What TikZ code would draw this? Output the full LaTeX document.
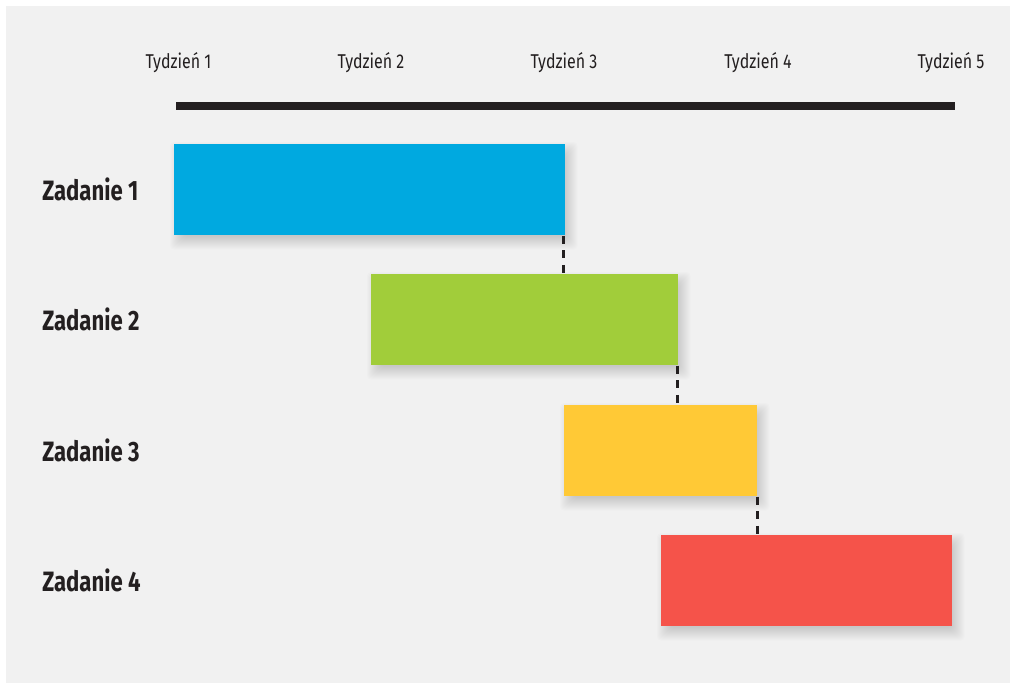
\documentclass[tikz,border=0pt]{standalone}
\usepackage{fontspec}
\setmainfont{Fira Sans}
\newfontfamily\weekfont[FakeStretch=0.8]{Fira Sans}
\newfontfamily\taskfont[FakeStretch=0.79]{Fira Sans Bold}

\pgfdeclarelayer{shade}
\pgfsetlayers{shade,main}

\definecolor{panel}{HTML}{F1F1F1}
\definecolor{ink}{HTML}{231F20}
\definecolor{barblue}{HTML}{00A9E0}
\definecolor{bargreen}{HTML}{A1CD3A}
\definecolor{baryellow}{HTML}{FFC936}
\definecolor{barred}{HTML}{F5534A}

\tikzset{
  week/.style={font=\weekfont\fontsize{15pt}{18pt}\selectfont, text=ink, anchor=base, inner sep=0pt},
  task/.style={font=\taskfont\fontsize{21pt}{25pt}\selectfont, text=ink, anchor=base west, inner sep=0pt},
  bar/.style={draw=none, anchor=north west, inner sep=0pt, minimum height={91*0.75pt}},
  shadelayer/.style={fill=black, fill opacity=0.012, draw=none, rounded corners=3pt},
  link/.style={draw=ink, line width=2pt, dash pattern=on 6pt off 5pt},
  timeline/.style={draw=ink, line width=6pt}
}

% soft drop shadow under a bar: stacked translucent rectangles
\newcommand\barshade[1]{%
  \begin{pgfonlayer}{shade}
    \foreach \r in {-5,...,8}{
      \fill[shadelayer]
        ([shift={(4-\r,6-\r)}]#1.north west) rectangle ([shift={(4+\r,6+\r)}]#1.south east);
    }
  \end{pgfonlayer}}

\begin{document}
\begin{tikzpicture}[x=0.75pt, y=-0.75pt]
  \useasboundingbox (0,0) rectangle (1010,683);
  \begin{pgfonlayer}{shade}
    \fill[white] (0,0) rectangle (1010,683);
    \fill[panel] (6,6) rectangle (1010,683);
  \end{pgfonlayer}

  % week header
  \node[week] (w1) at (178.5,68) {Tydzień 1};
  \node[week] (w2) at (371,68) {Tydzień 2};
  \node[week] (w3) at (564,68) {Tydzień 3};
  \node[week] (w4) at (758,68) {Tydzień 4};
  \node[week] (w5) at (951,68) {Tydzień 5};

  % time axis
  \coordinate (axisL) at (176,106);
  \coordinate (axisR) at (955,106);
  \draw[timeline] (axisL) -- (axisR);

  % task bars
  \node[bar, fill=barblue,   minimum width={391*0.75pt}] (bar1) at (174,144) {};
  \node[bar, fill=bargreen,  minimum width={307*0.75pt}] (bar2) at (371,274) {};
  \node[bar, fill=baryellow, minimum width={193*0.75pt}] (bar3) at (564,405) {};
  \node[bar, fill=barred,    minimum width={291*0.75pt}] (bar4) at (661,535) {};
  \barshade{bar1}
  \barshade{bar2}
  \barshade{bar3}
  \barshade{bar4}

  % task labels
  \node[task] (t1) at (42,200) {Zadanie 1};
  \node[task] (t2) at (42,330) {Zadanie 2};
  \node[task] (t3) at (42,461) {Zadanie 3};
  \node[task] (t4) at (42,591) {Zadanie 4};

  % dependencies
  \draw[link] ([xshift=-1.5pt]bar1.south east) -- ([xshift=-1.5pt]bar1.south east |- bar2.north);
  \draw[link] ([xshift=-0.75pt]bar2.south east) -- ([xshift=-0.75pt]bar2.south east |- bar3.north);
  \draw[link] (bar3.south east) -- (bar3.south east |- bar4.north);
\end{tikzpicture}
\end{document}
